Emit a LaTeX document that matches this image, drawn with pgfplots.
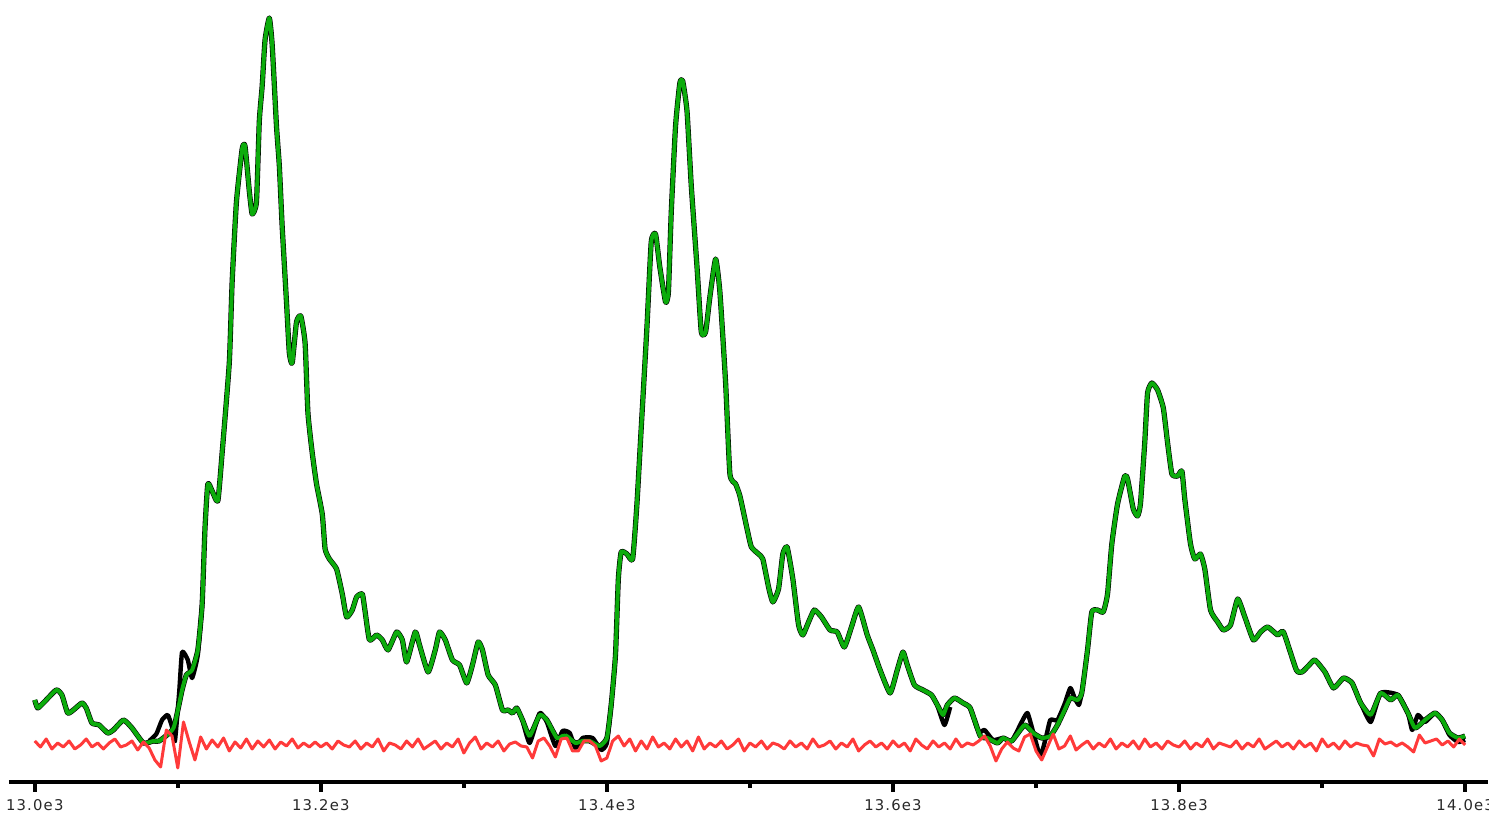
\documentclass[border=0pt]{standalone}
\usepackage{pgfplots}
\pgfplotsset{compat=1.18}
\usepackage{pgfplotstable}
\usepackage{fontspec}
\newfontfamily\tickfont[LetterSpace=8]{DejaVu Sans}
\definecolor{trgreen}{RGB}{12,172,12}
\definecolor{trred}{RGB}{255,58,58}
\definecolor{trtext}{RGB}{40,40,40}

\pgfplotstableread{
x y
13000 82
13002 74
13006 79
13015 92
13019 87
13023 69
13027 72
13033 79
13036 74
13040 59
13045 57
13051 49
13055 52
13062 62
13068 54
13076 39
13083 41
13087 41
13097 54
13103 92
13106 107
13110 112
13114 132
13117 177
13119 253
13121 298
13124 291
13128 281
13131 329
13136 419
13138 500
13141 580
13145 633
13147 636
13150 591
13152 568
13155 580
13157 661
13159 696
13161 742
13164 764
13166 737
13169 656
13171 616
13173 555
13176 480
13178 429
13180 419
13183 460
13186 466
13189 439
13191 369
13194 329
13197 298
13201 268
13203 233
13206 223
13211 213
13215 188
13218 165
13222 172
13225 185
13229 188
13231 170
13234 142
13239 147
13243 142
13247 132
13253 150
13257 142
13260 120
13266 150
13269 137
13275 110
13280 132
13283 150
13287 142
13292 122
13297 117
13302 99
13306 117
13310 140
13313 132
13317 107
13322 97
13327 72
13331 72
13334 69
13337 74
13341 62
13346 46
13353 67
13358 62
13365 44
13369 46
13372 46
13378 39
13383 41
13388 41
13395 36
13400 44
13403 77
13406 127
13408 203
13410 230
13414 228
13418 223
13421 278
13424 354
13428 455
13431 540
13434 548
13437 515
13441 480
13443 490
13445 570
13448 656
13451 699
13453 701
13456 671
13459 596
13463 515
13466 450
13469 450
13472 485
13476 523
13479 490
13483 399
13486 308
13490 298
13493 286
13498 253
13501 235
13506 228
13509 223
13513 195
13516 180
13520 193
13523 228
13526 235
13530 203
13534 157
13537 147
13541 160
13545 172
13550 165
13556 152
13561 150
13566 135
13571 155
13576 175
13582 147
13586 132
13591 112
13598 89
13603 112
13607 130
13610 117
13615 97
13621 92
13627 87
13631 77
13635 67
13638 77
13643 84
13649 79
13654 74
13661 46
13666 44
13673 39
13677 44
13683 41
13692 57
13698 49
13704 44
13710 46
13715 57
13720 72
13724 84
13729 82
13732 89
13736 132
13739 170
13743 172
13747 170
13750 188
13753 238
13757 278
13762 306
13764 303
13768 273
13771 266
13773 278
13776 339
13778 389
13781 399
13785 392
13789 374
13792 339
13795 308
13799 306
13802 311
13804 283
13808 238
13811 223
13815 228
13818 213
13822 172
13827 160
13831 152
13836 157
13841 183
13846 165
13852 142
13857 150
13862 155
13869 147
13873 150
13882 112
13886 110
13891 117
13895 122
13902 110
13908 94
13915 104
13921 99
13927 79
13934 67
13941 89
13948 82
13953 87
13960 69
13965 54
13972 62
13979 69
13984 62
13989 49
13995 44
14000 46
}\greendata

\pgfplotstableread{
x y
13080 41
13085 48
13089 62
13093 67
13096 55
13098 41
13101 90
13103 130
13107 122
13110 104
13114 127
13117 177
}\blackA

\pgfplotstableread{
x y
13341 62
13346 39
13353 69
13358 60
13364 36
13369 51
13374 49
13378 34
13383 44
13390 44
13396 32
13400 39
13403 77
}\blackB

\pgfplotstableread{
x y
13631 77
13636 57
13640 75
}\blackC

\pgfplotstableread{
x y
13654 74
13660 50
13664 52
13670 42
13677 44
13683 41
13690 60
13694 69
13698 50
13703 26
13707 45
13710 62
13715 62
13720 78
13724 94
13727 84
13730 77
13732 89
}\blackD

\pgfplotstableread{
x y
13921 99
13927 79
13934 60
13941 89
13953 87
13960 69
13963 52
13967 67
13972 60
13979 69
13984 62
13989 47
13995 40
14000 42
}\blackE

\pgfplotstableread{
x y
13000 41
13004 35
13008 43
13012 33
13016 39
13020 35
13024 41
13028 33
13032 37
13036 43
13040 35
13044 39
13048 33
13052 39
13056 43
13060 35
13064 37
13068 41
13072 32
13076 40
13080 34
13084 22
13088 15
13092 52
13096 46
13100 14
13104 60
13108 40
13112 22
13116 45
13120 33
13124 42
13128 35
13132 44
13136 31
13140 40
13144 34
13148 43
13152 33
13156 41
13160 35
13164 42
13168 33
13172 40
13176 36
13180 43
13184 34
13188 39
13192 35
13196 40
13200 35
13204 39
13208 33
13212 41
13216 37
13220 35
13224 41
13228 33
13232 39
13236 35
13240 43
13244 31
13248 39
13252 37
13256 33
13260 41
13264 35
13268 43
13272 33
13276 37
13280 41
13284 33
13288 39
13292 35
13296 43
13300 29
13304 39
13308 45
13312 33
13316 39
13320 35
13324 41
13328 31
13332 38
13336 40
13340 36
13344 35
13348 24
13352 41
13356 44
13360 36
13364 25
13368 43
13372 44
13376 31
13380 31
13384 41
13388 41
13392 36
13396 21
13400 24
13404 41
13408 46
13412 36
13416 43
13420 31
13424 41
13428 33
13432 45
13436 35
13440 39
13444 33
13448 43
13452 35
13456 41
13460 31
13464 45
13468 33
13472 39
13476 35
13480 41
13484 33
13488 37
13492 43
13496 31
13500 39
13504 35
13508 41
13512 33
13516 39
13520 37
13524 33
13528 41
13532 35
13536 39
13540 33
13544 43
13548 35
13552 37
13556 41
13560 33
13564 39
13568 35
13572 43
13576 31
13580 37
13584 41
13588 35
13592 39
13596 33
13600 41
13604 35
13608 39
13612 31
13616 43
13620 37
13624 33
13628 41
13632 35
13636 39
13640 33
13644 43
13648 35
13652 39
13656 37
13660 41
13664 46
13668 36
13672 21
13676 33
13680 40
13684 34
13688 31
13692 45
13696 48
13700 31
13704 22
13708 35
13712 48
13716 33
13720 36
13724 46
13728 32
13732 37
13736 41
13740 33
13744 39
13748 35
13752 43
13756 33
13760 39
13764 35
13768 41
13772 33
13776 43
13780 35
13784 39
13788 33
13792 41
13796 37
13800 35
13804 41
13808 33
13812 39
13816 35
13820 43
13824 33
13828 39
13832 37
13836 35
13840 41
13844 33
13848 39
13852 35
13856 43
13860 33
13864 37
13868 41
13872 35
13876 39
13880 33
13884 41
13888 35
13892 39
13896 31
13900 43
13904 35
13908 39
13912 33
13916 41
13920 35
13924 39
13928 37
13932 36
13936 26
13940 43
13944 38
13948 40
13952 36
13956 39
13960 35
13964 30
13968 47
13972 39
13976 41
13980 43
13984 37
13988 41
13992 35
13996 43
14000 37
}\reddata

\begin{document}
\begin{tikzpicture}
\begin{axis}[
  scale only axis,
  width=739.5pt, height=391pt,
  xmin=12982, xmax=14016,
  ymin=0, ymax=782,
  axis x line*=bottom,
  axis y line=none,
  axis line style={line width=1.7pt, black},
  xtick={13000,13200,13400,13600,13800,14000},
  xticklabels={13.0e3,13.2e3,13.4e3,13.6e3,13.8e3,14.0e3},
  minor xtick={13100,13300,13500,13700,13900},
  tick align=outside,
  major tick length=5pt,
  minor tick length=3pt,
  every tick/.style={line width=1.8pt, black},
  xticklabel style={font=\fontsize{7.4}{8}\tickfont, text=trtext, inner sep=0pt, yshift=-3.5pt},
  clip=false,
]
\addplot[black, line width=2.6pt, line join=round, smooth, tension=0.3] table {\greendata};
\addplot[black, line width=2.2pt, line join=round, smooth, tension=0.3] table {\blackA};
\addplot[black, line width=2.2pt, line join=round, smooth, tension=0.3] table {\blackB};
\addplot[black, line width=2.2pt, line join=round, smooth, tension=0.3] table {\blackC};
\addplot[black, line width=2.2pt, line join=round, smooth, tension=0.3] table {\blackD};
\addplot[black, line width=2.2pt, line join=round, smooth, tension=0.3] table {\blackE};
\addplot[trgreen, line width=2.0pt, line join=round, smooth, tension=0.3] table {\greendata};
\addplot[trred, line width=1.5pt, line join=round] table {\reddata};
\end{axis}
\fill[white] ([xshift=0.4pt,yshift=-1.2pt]current axis.south east) rectangle ([xshift=10pt,yshift=-20pt]current axis.south east);
\pgfresetboundingbox
\path[use as bounding box] ([xshift=-4.5pt,yshift=-17.5pt]current axis.south west) rectangle ([xshift=8.5pt]current axis.north east);
\end{tikzpicture}
\end{document}
